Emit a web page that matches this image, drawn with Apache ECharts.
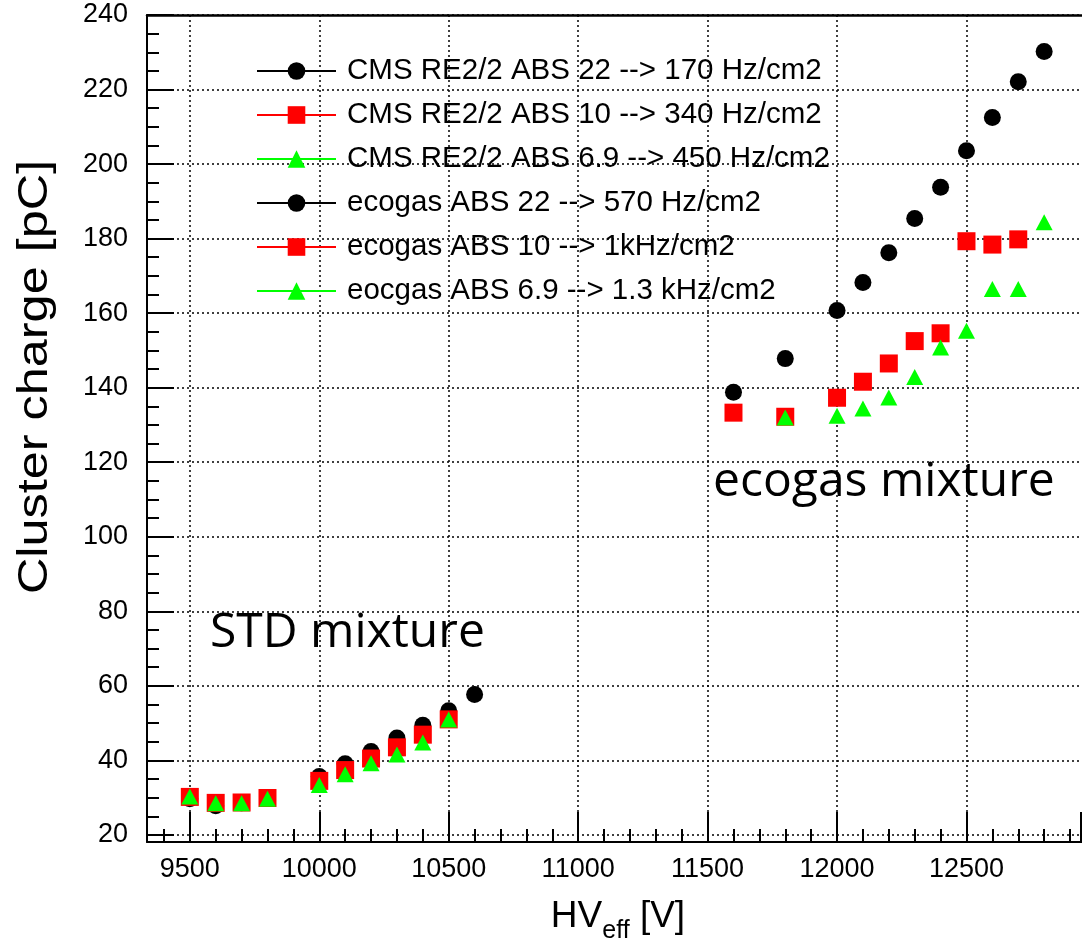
<!DOCTYPE html>
<html><head><meta charset="utf-8">
<script src="https://cdn.jsdelivr.net/npm/echarts@6/dist/echarts.min.js"></script>
<style>html,body{margin:0;padding:0;background:#fff}#c{width:1082px;height:944px}</style>
</head><body><div id="c"></div>
<script>
// ---- data ----
const stdHV22 = [9500, 9600, 9700, 9800, 10000, 10100, 10200, 10300, 10400, 10500, 10600];
const cms22   = [29.7, 27.8, 28.6, 30.0, 35.7, 39.1, 42.4, 46.0, 49.4, 53.3, 57.7];
const stdHV10 = [9500, 9600, 9700, 9800, 10000, 10100, 10200, 10300, 10400, 10500];
const cms10   = [30.2, 28.6, 28.7, 29.9, 34.5, 37.4, 40.5, 43.5, 46.9, 51.0];
const stdHV69 = [9500, 9600, 9700, 9800, 10000, 10100, 10200, 10300, 10400, 10500];
const cms69   = [30.3, 28.5, 28.5, 29.7, 33.4, 36.3, 39.2, 41.6, 44.8, 51.0];

const ecoHV22 = [11600, 11800, 12000, 12100, 12200, 12300, 12400, 12500, 12600, 12700, 12800];
const eco22   = [138.8, 147.8, 160.7, 168.2, 176.2, 185.4, 193.8, 203.6, 212.5, 222.1, 230.2];
const ecoHV10 = [11600, 11800, 12000, 12100, 12200, 12300, 12400, 12500, 12600, 12700];
const eco10   = [133.3, 132.2, 137.3, 141.6, 146.5, 152.5, 154.6, 179.3, 178.4, 179.8];
const ecoHV69 = [11800, 12000, 12100, 12200, 12300, 12400, 12500, 12600, 12700, 12800];
const eco69   = [132.0, 132.5, 134.4, 137.4, 142.9, 150.8, 155.3, 166.5, 166.5, 184.4];

const seriesNames = [
  'CMS RE2/2 ABS 22 --> 170 Hz/cm2',
  'CMS RE2/2 ABS 10 --> 340 Hz/cm2',
  'CMS RE2/2 ABS 6.9 --> 450 Hz/cm2',
  'ecogas ABS 22 --> 570 Hz/cm2',
  'ecogas ABS 10 --> 1kHz/cm2',
  'eocgas ABS 6.9 --> 1.3 kHz/cm2'
];
const xMajorTicks = [9500, 10000, 10500, 11000, 11500, 12000, 12500];
const xMinorTicks = [9400, 9600, 9700, 9800, 9900, 10100, 10200, 10300, 10400, 10600, 10700, 10800, 10900,
  11100, 11200, 11300, 11400, 11600, 11700, 11800, 11900, 12100, 12200, 12300, 12400, 12600, 12700, 12800, 12900];
const yMajorTicks = [20, 40, 60, 80, 100, 120, 140, 160, 180, 200, 220, 240];
const yMinorTicks = [25, 30, 35, 45, 50, 55, 65, 70, 75, 85, 90, 95, 105, 110, 115, 125, 130, 135,
  145, 150, 155, 165, 170, 175, 185, 190, 195, 205, 210, 215, 225, 230, 235];
const xRange = [9334.6, 12946.2];
const yRange = [18.1, 240];
const xEdgeTick = 12942; // lies past the visible right edge; its grid line is suppressed

// ---- chart ----
const FONT = '"Liberation Sans", Arial, sans-serif';
const chart = echarts.init(document.getElementById('c'), null, {renderer: 'canvas'});
const pairs = (xs, ys) => xs.map((x, i) => [x, ys[i]]);

function mk(name, xs, ys, color, symbol, size) {
  return {
    name, type: 'line', xAxisIndex: 0, yAxisIndex: 0,
    data: pairs(xs, ys),
    symbol, symbolSize: size, showAllSymbol: true,
    itemStyle: {color: color, borderWidth: 0},
    lineStyle: {color: color, width: 2, opacity: 0},
    emphasis: {disabled: true},
    z: 3
  };
}

const baseX = {type: 'value', min: xRange[0], max: xRange[1]};
const baseY = {type: 'value', min: yRange[0], max: yRange[1]};
const plain = v => String(v);
const noSplit = {show: false};
const gridDots = {color: '#000', width: 1.5, type: [2, 3]};

chart.setOption({
  animation: false,
  backgroundColor: '#fff',
  grid: {left: 147, right: -4, top: 15, bottom: 102, containLabel: false},
  xAxis: [
    Object.assign({}, baseX, {
      position: 'bottom',
      axisLine: {show: true, onZero: false, lineStyle: {color: '#000', width: 2}},
      axisTick: {show: true, inside: true, length: 30, customValues: xMajorTicks.concat([xEdgeTick]), lineStyle: {color: '#000', width: 2}},
      axisLabel: {show: true, customValues: xMajorTicks, formatter: plain, margin: 14, color: '#000', fontSize: 27, fontFamily: FONT},
      splitLine: {show: true, showMinLine: true, showMaxLine: false, lineStyle: gridDots}
    }),
    Object.assign({}, baseX, {
      position: 'bottom',
      axisLine: {show: false},
      axisTick: {show: true, inside: true, length: 13, customValues: xMinorTicks, lineStyle: {color: '#000', width: 2}},
      axisLabel: {show: false},
      splitLine: noSplit
    }),
    Object.assign({}, baseX, {
      position: 'top',
      axisLine: {show: true, onZero: false, lineStyle: {color: '#000', width: 2.5}},
      axisTick: {show: false}, axisLabel: {show: false}, splitLine: noSplit
    })
  ],
  yAxis: [
    Object.assign({}, baseY, {
      position: 'left',
      axisLine: {show: true, onZero: false, lineStyle: {color: '#000', width: 2}},
      axisTick: {show: true, inside: true, length: 27, customValues: yMajorTicks, lineStyle: {color: '#000', width: 2}},
      axisLabel: {show: true, customValues: yMajorTicks, formatter: plain, margin: 19, color: '#000', fontSize: 27, fontFamily: FONT},
      splitLine: {show: true, showMinLine: true, showMaxLine: true, lineStyle: gridDots}
    }),
    Object.assign({}, baseY, {
      position: 'left',
      axisLine: {show: false},
      axisTick: {show: true, inside: true, length: 12, customValues: yMinorTicks, lineStyle: {color: '#000', width: 2}},
      axisLabel: {show: false},
      splitLine: noSplit
    })
  ],
  legend: {
    orient: 'vertical', left: 251, top: 51,
    itemWidth: 79, itemHeight: 22, itemGap: 14,
    data: seriesNames,
    selectedMode: false,
    lineStyle: {opacity: 1, width: 2},
    textStyle: {color: '#000', fontSize: 29.5, fontFamily: FONT, padding: [0, 0, 0, 6]}
  },
  series: [
    mk(seriesNames[0], stdHV22, cms22, '#000000', 'circle', 17),
    mk(seriesNames[1], stdHV10, cms10, '#ff0000', 'rect', 18),
    mk(seriesNames[2], stdHV69, cms69, '#00ff00', 'triangle', [17, 16]),
    mk(seriesNames[3], ecoHV22, eco22, '#000000', 'circle', 17),
    mk(seriesNames[4], ecoHV10, eco10, '#ff0000', 'rect', 18),
    mk(seriesNames[5], ecoHV69, eco69, '#00ff00', 'triangle', [17, 16])
  ],
  graphic: [
    {type: 'text', left: 210, top: 609, z: 10,
     style: {text: 'STD mixture', fill: '#000', font: '48px "Open Sans", "Noto Sans", sans-serif'}},
    {type: 'text', left: 713, top: 458, z: 10,
     style: {text: 'ecogas mixture', fill: '#000', font: '48px "Open Sans", "Noto Sans", sans-serif'}},
    {type: 'text', x: 35, y: 377, rotation: Math.PI / 2, scaleX: 1.2, z: 10,
     style: {text: 'Cluster charge [pC]', fill: '#000', align: 'center', verticalAlign: 'middle',
             font: '42px "Liberation Sans", Arial, sans-serif'}},
    {type: 'text', x: 618, y: 921, z: 10,
     style: {
       text: '{a|HV}{b|eff}{a| [V]}', align: 'center', verticalAlign: 'middle',
       rich: {
         a: {fontSize: 37, fontFamily: FONT, fill: '#000', verticalAlign: 'bottom', padding: [0, 0, 9, 0]},
         b: {fontSize: 25, fontFamily: FONT, fill: '#000', verticalAlign: 'bottom'}
       }
     }}
  ]
});
</script></body></html>
